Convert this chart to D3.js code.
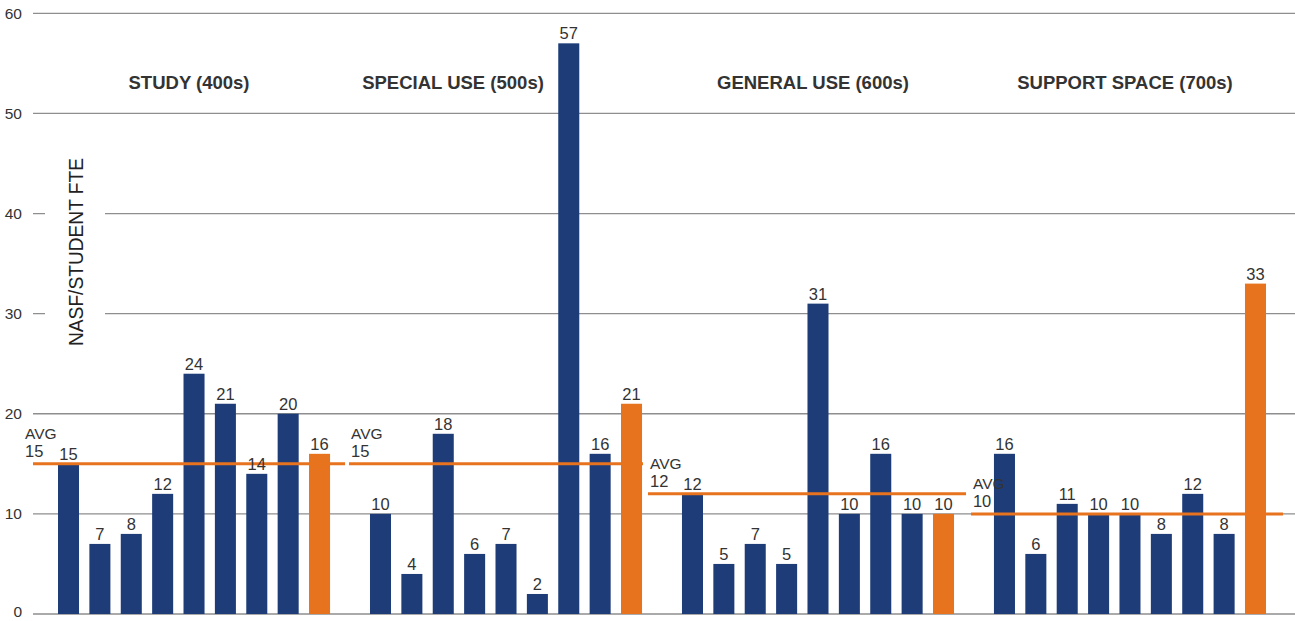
<!DOCTYPE html>
<html>
<head>
<meta charset="utf-8">
<script src="https://cdn.jsdelivr.net/npm/d3@7"></script>
<style>
  html, body { margin: 0; padding: 0; background: #fff; }
  svg { display: block; }
  text { font-family: "Liberation Sans", Arial, sans-serif; }
</style>
</head>
<body>
<svg id="chart" width="1295" height="621"></svg>
<script>
// Space categories and NASF per student FTE for each benchmark institution
const groups = ["STUDY (400s)", "SPECIAL USE (500s)", "GENERAL USE (600s)", "SUPPORT SPACE (700s)"];
const study        = [15, 7, 8, 12, 24, 21, 14, 20, 16];
const specialUse   = [10, 4, 18, 6, 7, 2, 57, 16, 21];
const generalUse   = [12, 5, 7, 5, 31, 10, 16, 10, 10];
const supportSpace = [16, 6, 11, 10, 10, 8, 12, 8, 33];
const averages     = [15, 15, 12, 10];
const yTicks       = [0, 10, 20, 30, 40, 50, 60];
const yTitle = "NASF/STUDENT FTE";
const highlightIndex = 8; // the institution shown in orange

const seriesByGroup = [study, specialUse, generalUse, supportSpace];

const navy = "#1d3c78";
const orange = "#e8731e";
const gridColor = "#8e8e8e";
const textColor = "#333";

const svg = d3.select("#chart");

const y = d3.scaleLinear().domain([0, 60]).range([614, 13.3]);

const xg = d3.scaleBand().domain(groups).range([58, 1266]).paddingInner(0.128).paddingOuter(0);
const xi = d3.scaleBand().domain(d3.range(9)).range([0, xg.bandwidth()]).paddingInner(0.33).paddingOuter(0);

// Gridlines and y tick labels
const grid = svg.append("g");
grid.selectAll("line").data(yTicks).join("line")
  .attr("x1", 33).attr("x2", 1295)
  .attr("y1", d => y(d)).attr("y2", d => y(d))
  .attr("stroke", gridColor).attr("stroke-width", 1.3);
grid.selectAll("text").data(yTicks).join("text")
  .attr("x", 22).attr("y", d => y(d))
  .attr("dy", d => d === 0 ? "0.2em" : "0.36em")
  .attr("text-anchor", "end")
  .attr("font-size", 15.5)
  .attr("fill", textColor)
  .text(d => d);

// Y axis title on a white panel that interrupts the gridlines
svg.append("rect").attr("x", 45).attr("y", 145).attr("width", 60).attr("height", 215).attr("fill", "#fff");
svg.append("text")
  .attr("transform", "translate(83,252) rotate(-90)")
  .attr("text-anchor", "middle")
  .attr("font-size", 21)
  .attr("textLength", 188)
  .attr("lengthAdjust", "spacingAndGlyphs")
  .attr("fill", "#222")
  .text(yTitle);

// Category titles
const titleShift = { "SPECIAL USE (500s)": -48 };
svg.append("g").selectAll("text").data(groups).join("text")
  .attr("x", g => xg(g) + xg.bandwidth() / 2 - 5 + (titleShift[g] || 0))
  .attr("y", 89)
  .attr("text-anchor", "middle")
  .attr("font-size", 18.5)
  .attr("font-weight", "bold")
  .attr("fill", textColor)
  .text(g => g);

// Bars
const barData = groups.flatMap((g, gi) => seriesByGroup[gi].map((v, i) => ({ g, i, v })));
svg.append("g").selectAll("rect").data(barData).join("rect")
  .attr("x", d => xg(d.g) + xi(d.i))
  .attr("y", d => y(d.v))
  .attr("width", xi.bandwidth())
  .attr("height", d => y(0) - y(d.v))
  .attr("fill", d => d.i === highlightIndex ? orange : navy);

// Average lines per category; each line reaches a little past its group of bars
const avgReach = [[-25, 15], [-21, 1], [-34, 12], [-23, 17]];
const avgData = groups.map((g, gi) => ({
  g, gi, v: averages[gi],
  x1: xg(g) + avgReach[gi][0],
  x2: xg(g) + xg.bandwidth() + avgReach[gi][1]
}));
const avg = svg.append("g");
avg.selectAll("line").data(avgData).join("line")
  .attr("x1", d => d.x1).attr("x2", d => d.x2)
  .attr("y1", d => y(d.v)).attr("y2", d => y(d.v))
  .attr("stroke", orange).attr("stroke-width", 3);
const avgLabelX = d => d.gi === 0 ? d.x1 - 8 : d.x1 + 2;
avg.selectAll("text.avg").data(avgData).join("text")
  .attr("class", "avg")
  .attr("x", avgLabelX)
  .attr("y", d => y(d.v) - 25)
  .attr("font-size", 15.5)
  .attr("fill", textColor)
  .text("AVG");
avg.selectAll("text.avgv").data(avgData).join("text")
  .attr("class", "avgv")
  .attr("x", avgLabelX)
  .attr("y", d => y(d.v) - 7)
  .attr("font-size", 16.5)
  .attr("fill", textColor)
  .text(d => d.v);

// Value labels above each bar
svg.append("g").selectAll("text").data(barData).join("text")
  .attr("x", d => xg(d.g) + xi(d.i) + xi.bandwidth() / 2)
  .attr("y", d => y(d.v) - 4)
  .attr("text-anchor", "middle")
  .attr("font-size", 16.5)
  .attr("fill", textColor)
  .text(d => d.v);
</script>
</body>
</html>
